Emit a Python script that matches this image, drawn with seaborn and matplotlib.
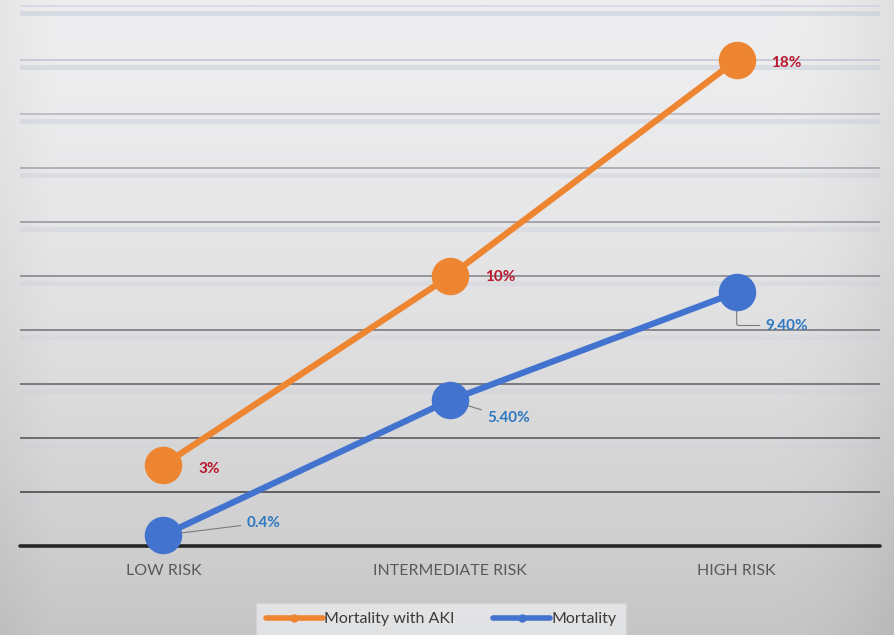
import numpy as np
import pandas as pd
import matplotlib
matplotlib.use("Agg")
import matplotlib.pyplot as plt
from matplotlib.lines import Line2D
import seaborn as sns

# data
risk_groups = ["LOW RISK", "INTERMEDIATE RISK", "HIGH RISK"]
mortality_aki = [3.0, 10.0, 18.0]
mortality = [0.4, 5.4, 9.4]
aki_labels = ["3%", "10%", "18%"]
mort_labels = ["0.4%", "5.40%", "9.40%"]
series_names = ["Mortality with AKI", "Mortality"]

ORANGE = "#ee8530"
BLUE = "#4173cf"
RED_TXT = "#b8182e"
BLUE_TXT = "#2e78c0"

df = pd.DataFrame({
    "x": list(range(len(risk_groups))) * 2,
    "value": mortality_aki + mortality,
    "series": [series_names[0]] * 3 + [series_names[1]] * 3,
})

sns.set_theme(style="white")
plt.rcParams["font.family"] = ["Lato", "DejaVu Sans"]

W, H = 895, 635
fig = plt.figure(figsize=(W / 100, H / 100), dpi=100)

# background gradient (light at top, darker toward bottom / right edge)
bg = fig.add_axes([0, 0, 1, 1], zorder=-10)
yy = np.linspace(0, 1, 300)[:, None]
xx = np.linspace(0, 1, 400)[None, :]
shade = 238 - 40 * yy ** 1.6 - 14 * np.clip((xx - 0.85) / 0.15, 0, 1) ** 2 - 8 * np.clip((0.06 - xx) / 0.06, 0, 1)
img = np.dstack([shade, shade, shade + 1.5]) / 255.0
bg.imshow(np.clip(img, 0, 1), aspect="auto", extent=[0, 1, 0, 1], origin="upper")
bg.axis("off")

ax = fig.add_axes([20 / W, 89 / H, 860 / W, 546 / H])
ax.set_facecolor("none")

sns.lineplot(data=df, x="x", y="value", hue="series", hue_order=series_names,
             palette=[ORANGE, BLUE], marker="o", markersize=27, linewidth=4.5,
             markeredgewidth=0, legend=False, ax=ax)
for ln in ax.lines:
    ln.set_clip_on(False)
    ln.set_zorder(5)

ax.set_xlim(-0.5, 2.5)
ax.set_ylim(0, 20.22)

# gridlines, light at the top and darker toward the bottom
levels = np.arange(2, 21, 2)
for v in levels:
    t = (v - 2) / 18.0
    c = (0.25 + 0.56 * t, 0.25 + 0.58 * t, 0.26 + 0.61 * t)
    ax.axhline(v, color=c, lw=1.1, zorder=1)
    ax.axhline(v - 0.27, color=(0.72, 0.76, 0.82), lw=3.5, alpha=0.35 * t + 0.05, zorder=1)
ax.axhline(0, color="#262626", lw=2.6, zorder=2, clip_on=False)

# data labels
aki_offsets = [(25, -3), (25, -1), (25, -2)]
mort_offsets = [(60, 9), (27, -13), (21, -24)]
mort_conn = ["arc3", "arc3", "angle,angleA=0,angleB=90,rad=2"]
for i, (v, lab) in enumerate(zip(mortality_aki, aki_labels)):
    ax.annotate(lab, xy=(i, v), xytext=aki_offsets[i], textcoords="offset points",
                ha="left", va="center", fontsize=11, fontweight="bold", color=RED_TXT)
for i, (v, lab) in enumerate(zip(mortality, mort_labels)):
    ax.annotate(lab, xy=(i, v), xytext=mort_offsets[i], textcoords="offset points",
                ha="left", va="center", fontsize=11, fontweight="bold", color=BLUE_TXT,
                arrowprops=dict(arrowstyle="-", color="#7a7a7a", lw=0.8,
                                shrinkA=2, shrinkB=0, connectionstyle=mort_conn[i]),
                zorder=3)

ax.set_xticks(range(len(risk_groups)))
ax.set_xticklabels(risk_groups, fontsize=11.5, color="#595959")
ax.tick_params(axis="x", length=0, pad=13)
ax.set_yticks([])
ax.set_xlabel("")
ax.set_ylabel("")
for s in ax.spines.values():
    s.set_visible(False)

handles = [Line2D([], [], color=ORANGE, lw=4, marker="o", ms=5),
           Line2D([], [], color=BLUE, lw=4, marker="o", ms=5)]
leg = fig.legend(handles, series_names, loc="lower center", bbox_to_anchor=(441 / W, -0.014),
                 ncol=2, fontsize=11.5, frameon=True, handlelength=3.6, handletextpad=0.05,
                 columnspacing=2.4, borderpad=0.6, fancybox=False, labelcolor="#3a3a3a")
leg.get_frame().set_facecolor("#e9eaec")
leg.get_frame().set_edgecolor("#d2d2d4")

fig.savefig("out.png", dpi=100)
